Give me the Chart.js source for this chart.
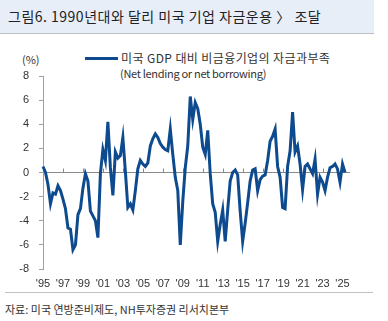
<!DOCTYPE html>
<html>
<head>
<meta charset="utf-8">
<script src="https://cdn.jsdelivr.net/npm/chart.js"></script>
<style>
  body { margin: 0; background: #fff; }
  #wrap { position: relative; width: 388px; height: 321px; overflow: hidden; font-family: "Noto Sans CJK KR", sans-serif; color: #333; }
  #title { position: absolute; left: 0; top: 0; width: 374px; height: 34px; background: #e8eef8; border-bottom: 1px solid #b9bdc4; box-sizing: border-box; }
  #title span { position: absolute; left: 8px; top: 6px; font-size: 14px; line-height: 20px; color: #222; letter-spacing: 0.5px; }
  .txt { position: absolute; white-space: nowrap; font-size: 11px; line-height: 14px; }
  #legLine { position: absolute; left: 85px; top: 57px; width: 33px; height: 3px; background: #0d4a8e; }
  #srcLine { position: absolute; left: 5px; top: 292px; width: 368px; height: 1px; background: #c2c2c2; }
  canvas { position: absolute; left: 0; top: 0; }
</style>
</head>
<body>
<div id="wrap">
  <div id="title"><span>그림6. 1990년대와 달리 미국 기업 자금운용 〉 조달</span></div>
  <div class="txt" style="left:22px; top:52px;">(%)</div>
  <div id="legLine"></div>
  <div class="txt" style="left:121px; top:51px; font-size:12px; letter-spacing:0.4px;">미국 GDP 대비 비금융기업의 자금과부족</div>
  <div class="txt" style="left:120px; top:66px; letter-spacing:-0.3px;">(Net lending or net borrowing)</div>
  <div id="srcLine"></div>
  <div class="txt" style="left:5px; top:302px;">자료: 미국 연방준비제도, NH투자증권 리서치본부</div>
  <canvas id="chart" width="388" height="321"></canvas>
</div>
<script>
// quarterly, 1995Q1 .. 2025Q2
const years = [1995, 1996, 1997, 1998, 1999, 2000, 2001, 2002, 2003, 2004, 2005, 2006, 2007, 2008, 2009, 2010,
  2011, 2012, 2013, 2014, 2015, 2016, 2017, 2018, 2019, 2020, 2021, 2022, 2023, 2024, 2025];
const quarters = ["Q1", "Q2", "Q3", "Q4"];
const xTickLabels = ["'95", "'97", "'99", "'01", "'03", "'05", "'07", "'09", "'11", "'13", "'15", "'17", "'19", "'21", "'23", "'25"];
const netLending = [
  0.5, 0.0, -1.0, -2.6,
  -1.7, -1.8, -1.1, -1.5,
  -2.2, -3.0, -4.6, -4.7,
  -6.4, -6.0, -3.5, -3.0,
  -1.3, -0.1, -0.7, -3.2,
  -3.6, -4.0, -5.4, -0.1,
  1.9, 1.0, 4.2, 0.4,
  -1.9, 1.7, 1.2, 1.4,
  2.9, 0.1, -2.9, -2.6,
  -3.1, -1.5, 0.3, 1.0,
  0.7, 0.5, 0.8, 2.2,
  2.8, 3.2, 2.9, 2.4,
  2.1, 1.9, 1.8, 3.6,
  1.5, -0.4, -1.5, -6.0,
  -2.4, 0.4, 2.2, 6.3,
  4.4, 5.8, 5.3, 4.0,
  2.1, 1.5, 3.5, -0.1,
  -2.6, -3.3, -5.7, -4.3,
  -3.1, -5.7, -3.1, -0.7,
  0.0, 0.2, -0.2, -3.2,
  -5.7, -4.2, -2.5, -0.7,
  0.2, 0.3, -1.5, -0.6,
  -0.3, -0.2, 1.0, 2.6,
  3.0, 3.6, 0.5, -0.4,
  -2.9, -3.0, 0.5, 1.8,
  5.0, 1.7, 2.2, 0.7,
  -1.4, 0.5, 0.7, 0.3,
  -0.1, 1.1, -1.8, -0.4,
  -0.8, -1.5, -0.4, 0.4,
  0.5, 0.7, 0.3, -0.8,
  0.7, 0.0
];

const labels = years.flatMap(y => quarters.map(q => y + q));

// small upward tick marks on the zero line, every two years
const zeroTicks = {
  id: "zeroTicks",
  beforeDatasetsDraw(chart) {
    const x = chart.scales.x, y = chart.scales.y;
    const y0 = y.getPixelForValue(0);
    const ctx = chart.ctx;
    ctx.save();
    ctx.strokeStyle = "#8a8a8a";
    ctx.lineWidth = 1;
    for (let i = 8; i < labels.length; i += 8) {
      const px = Math.round(x.getPixelForValue(i)) + 0.5;
      ctx.beginPath();
      ctx.moveTo(px, y0);
      ctx.lineTo(px, y0 - 4);
      ctx.stroke();
    }
    ctx.restore();
  }
};

new Chart(document.getElementById("chart").getContext("2d"), {
  type: "line",
  data: {
    labels: labels,
    datasets: [{
      label: "미국 GDP 대비 비금융기업의 자금과부족",
      data: netLending,
      borderColor: "#0d4a8e",
      borderWidth: 3,
      pointRadius: 0,
      tension: 0,
      fill: false
    }]
  },
  options: {
    responsive: false,
    animation: false,
    layout: { padding: { left: 0, top: 76, right: 38, bottom: 28 } },
    plugins: { legend: { display: false }, tooltip: { enabled: false } },
    scales: {
      x: {
        grid: { display: false, drawTicks: false },
        border: { display: false },
        afterFit: s => { s.height = 24; },
        ticks: {
          autoSkip: false,
          maxRotation: 0,
          padding: 8,
          color: "#333",
          font: { family: "Liberation Sans", size: 11 },
          callback: (v, i) => (i % 8 === 0 ? xTickLabels[i / 8] : null)
        }
      },
      y: {
        min: -8,
        max: 8,
        afterFit: s => { s.width = 43; },
        grid: {
          drawOnChartArea: true,
          color: c => (c.tick && c.tick.value === 0 ? "#8a8a8a" : "rgba(0,0,0,0)"),
          tickColor: "#a0a0a0",
          tickLength: 4
        },
        border: { display: true, color: "#a0a0a0" },
        ticks: {
          stepSize: 2,
          padding: 10,
          color: "#333",
          font: { family: "Liberation Sans", size: 11 }
        }
      }
    }
  },
  plugins: [zeroTicks]
});
</script>
</body>
</html>
